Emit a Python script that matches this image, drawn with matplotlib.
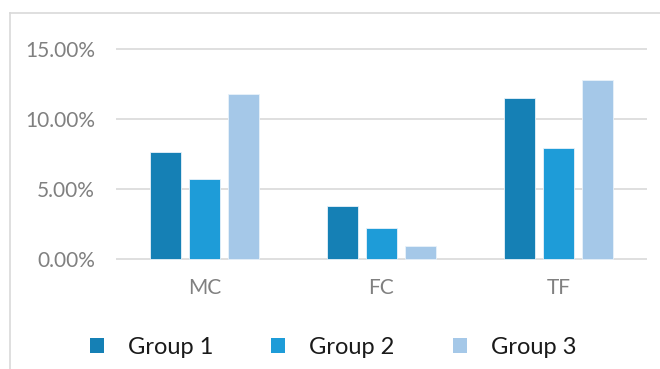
import matplotlib
matplotlib.use('Agg')
import matplotlib.pyplot as plt
import numpy as np
from matplotlib.patches import Patch
from matplotlib.lines import Line2D

# data
categories = ['MC', 'FC', 'TF']
group1 = [0.0769, 0.0379, 0.1150]
group2 = [0.0573, 0.0221, 0.0798]
group3 = [0.1183, 0.0095, 0.1284]
series_names = ['Group 1', 'Group 2', 'Group 3']
colors = ['#1580B5', '#1E9CD8', '#A5C8E8']
yticks = [0.0, 0.05, 0.10, 0.15]

plt.rcParams['font.family'] = ['Lato', 'DejaVu Sans']

W, H = 660, 369
fig = plt.figure(figsize=(W / 100, H / 100), dpi=100)

# plot area in pixels: x 116..647, y(0%)=259, y(15%)=49.5
y_lo, y_hi = -0.001, 0.151
ppu = (259 - 49.5) / 0.15
top_px = 49.5 - (y_hi - 0.15) * ppu
bot_px = 259 + (0 - y_lo) * ppu
ax = fig.add_axes([116 / W, 1 - bot_px / H, (647 - 116) / W, (bot_px - top_px) / H])

x = np.arange(len(categories))
step, width = 0.22, 0.18
for i, (vals, name, c) in enumerate(zip([group1, group2, group3], series_names, colors)):
    ax.bar(x + (i - 1) * step, vals, width, color=c, edgecolor='#e8f2fa',
           linewidth=0.6, label=name, zorder=3)

ax.set_xlim(-0.5, 2.5)
ax.set_ylim(y_lo, y_hi)
ax.set_yticks(yticks)
ax.set_yticklabels([f'{v * 100:.2f}%' for v in yticks])
ax.set_xticks(x)
ax.set_xticklabels(categories)
ax.yaxis.grid(True, color='#d9d9d9', linewidth=1.2, zorder=0)
ax.set_axisbelow(True)
for s in ax.spines.values():
    s.set_visible(False)
ax.tick_params(axis='both', length=0, colors='#808080', labelsize=15)
ax.tick_params(axis='y', pad=15)
ax.tick_params(axis='x', pad=13)

# chart frame (only top and left edges visible in the crop)
fig.add_artist(Line2D([10 / W, 10 / W], [0, 1 - 13 / H], transform=fig.transFigure,
                      color='#d9d9d9', linewidth=1.2))
fig.add_artist(Line2D([10 / W, 1], [1 - 13 / H, 1 - 13 / H], transform=fig.transFigure,
                      color='#d9d9d9', linewidth=1.2))

handles = [Patch(facecolor=c, edgecolor='none') for c in colors]
fig.legend(handles, series_names, loc='center left', ncol=3, frameon=False,
           bbox_to_anchor=(90 / W, 1 - 347 / H), fontsize=17,
           handlelength=0.59, handleheight=0.59, handletextpad=1.02,
           columnspacing=2.46, borderpad=0, borderaxespad=0,
           labelcolor='#1a1a1a')

fig.savefig('out.png', dpi=100)
